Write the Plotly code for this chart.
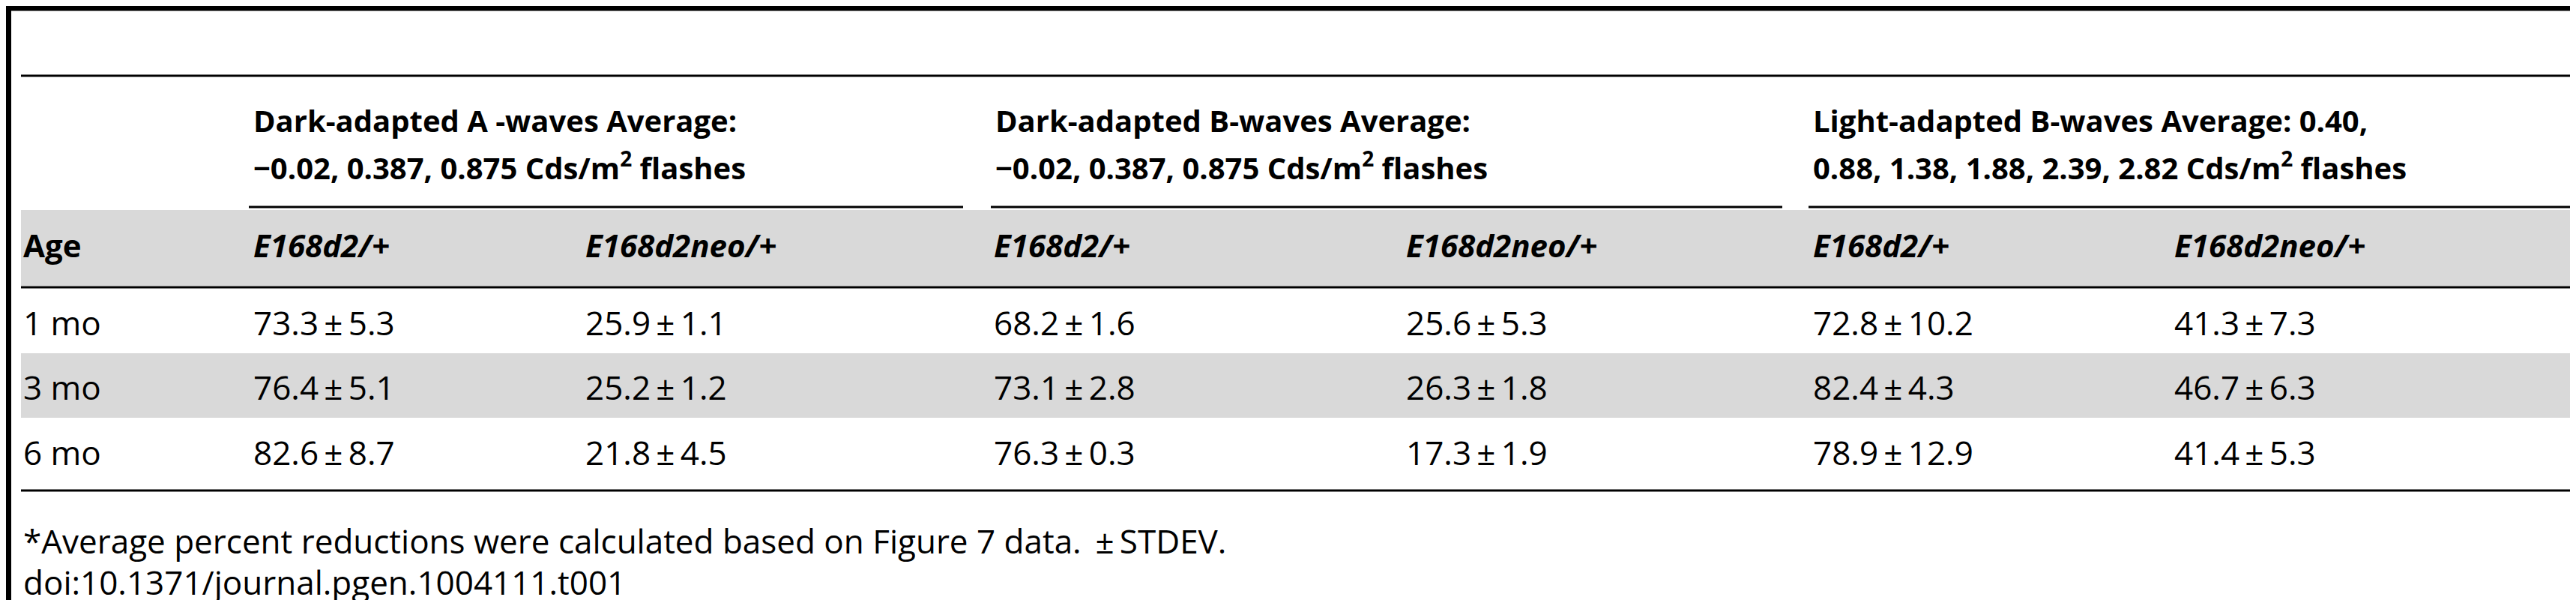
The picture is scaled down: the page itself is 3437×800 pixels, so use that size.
import plotly.graph_objects as go

W, H = 3437, 800
FONT = "Open Sans, sans-serif"

# ══════ table data ══════
group_line1 = [
    "Dark-adapted A -waves Average:",
    "Dark-adapted B-waves Average:",
    "Light-adapted B-waves Average: 0.40,",
]
group_line2 = [
    "−0.02, 0.387, 0.875 Cds/m<sup>2</sup> flashes",
    "−0.02, 0.387, 0.875 Cds/m<sup>2</sup> flashes",
    "0.88, 1.38, 1.88, 2.39, 2.82 Cds/m<sup>2</sup> flashes",
]
genotypes = ["E168d2/+", "E168d2neo/+"] * 3
ages = ["1 mo", "3 mo", "6 mo"]
rows = [
    ["73.3±5.3", "25.9±1.1", "68.2±1.6", "25.6±5.3", "72.8±10.2", "41.3±7.3"],
    ["76.4±5.1", "25.2±1.2", "73.1±2.8", "26.3±1.8", "82.4±4.3", "46.7±6.3"],
    ["82.6±8.7", "21.8±4.5", "76.3±0.3", "17.3±1.9", "78.9±12.9", "41.4±5.3"],
]
footnote = "*Average percent reductions were calculated based on Figure 7 data. ±STDEV."
doi = "doi:10.1371/journal.pgen.1004111.t001"

# layout (pixels)
col_x = [328, 771, 1316, 1866, 2409, 2891]
group_span = [(324, 1277), (1314, 2370), (2405, 3437)]
row_y = [422, 508, 595]

fig = go.Figure()
fig.add_trace(go.Scatter(x=[0], y=[0], mode="markers", marker=dict(opacity=0), hoverinfo="skip"))

shapes = []
ann = []


def line(x0, x1, y, w):
    shapes.append(dict(type="line", x0=x0, x1=x1, y0=y, y1=y, line=dict(color="black", width=w)))


def rect(y0, y1):
    shapes.append(dict(type="rect", x0=20, x1=W, y0=y0, y1=y1, fillcolor="#d9d9d9",
                       line=dict(width=0), layer="below"))


def pm(s):
    return s.replace("±", "\u2009±\u2009")


def text(x, y, s, bold=False, italic=False, size=44):
    if italic:
        s = f"<i>{s}</i>"
    if bold:
        s = f"<b>{s}</b>"
    ann.append(dict(x=x, y=y, text=s, showarrow=False, xanchor="left", yanchor="middle",
                    align="left", font=dict(family=FONT, size=size, color="black")))


rect(272, 373)
rect(463, 549)

shapes.append(dict(type="rect", x0=0, x1=7, y0=0, y1=793, fillcolor="black", line=dict(width=0)))
line(0, W, 3, 7)
line(20, W, 93, 3)
for x0, x1 in group_span:
    line(x0, x1, 268, 3)
line(20, W, 375, 3)
line(20, W, 646, 3)

for i in range(3):
    text(group_span[i][0] + 4, 152, group_line1[i], bold=True, size=40)
    text(group_span[i][0] + 4, 213, group_line2[i], bold=True, size=40)
text(21, 318, "Age", bold=True, size=42)
for x, gname in zip(col_x, genotypes):
    text(x, 318, gname, bold=True, italic=True, size=42)
for y, age, vals in zip(row_y, ages, rows):
    text(21, y, age)
    for x, v in zip(col_x, vals):
        text(x, y, pm(v))
text(21, 713, pm(footnote))
text(21, 768, doi)

fig.update_layout(
    width=W, height=H, margin=dict(l=0, r=0, t=0, b=0),
    plot_bgcolor="white", paper_bgcolor="white", showlegend=False,
    shapes=shapes, annotations=ann,
    xaxis=dict(range=[0, W], visible=False, fixedrange=True),
    yaxis=dict(range=[H, 0], visible=False, fixedrange=True),
)
fig.write_html("out.html")
